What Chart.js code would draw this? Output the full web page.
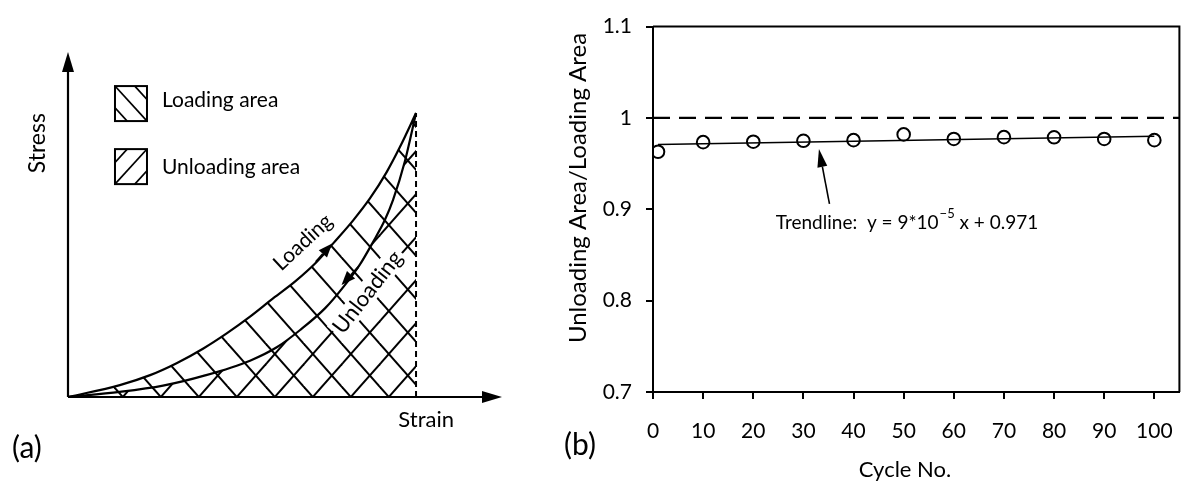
<!DOCTYPE html>
<html>
<head>
<meta charset="utf-8">
<title>Loading / unloading area</title>
<script src="https://cdn.jsdelivr.net/npm/chart.js@4.4.1/dist/chart.umd.min.js"></script>
<style>
  html, body { margin: 0; padding: 0; background: #fff; }
  #wrap { position: relative; width: 1193px; height: 483px; }
  #boxA { position: absolute; left: 0; top: 0; width: 560px; height: 483px; }
  #boxB { position: absolute; left: 560px; top: 0; width: 633px; height: 483px; }
</style>
</head>
<body>
<div id="wrap">
  <div id="boxA"><canvas id="schemeChart"></canvas></div>
  <div id="boxB"><canvas id="ratioChart"></canvas></div>
</div>
<script>
// (a) schematic stress-strain loop, strain and stress scaled to the peak (1, 1)
const strainLoading = [0, 0.149, 0.236, 0.312, 0.389, 0.456, 0.523, 0.590, 0.652, 0.715, 0.762, 0.820, 0.868, 0.916, 0.954, 1];
const stressLoading = [0, 0.042, 0.077, 0.119, 0.171, 0.224, 0.283, 0.348, 0.406, 0.476, 0.541, 0.623, 0.700, 0.793, 0.881, 1];
const strainUnloading = [0, 0.149, 0.273, 0.394, 0.523, 0.601, 0.667, 0.739, 0.796, 0.839, 0.876, 0.911, 0.934, 0.968, 1];
const stressUnloading = [0, 0.018, 0.040, 0.076, 0.128, 0.176, 0.236, 0.313, 0.395, 0.467, 0.545, 0.625, 0.694, 0.830, 1];
const peakStrain = [1, 1];
const peakStress = [0, 1];

// (b) unloading/loading area ratio per cycle
const cycles = [1, 10, 20, 30, 40, 50, 60, 70, 80, 90, 100];
const areaRatio = [0.963, 0.9735, 0.974, 0.975, 0.9757, 0.982, 0.977, 0.979, 0.9788, 0.977, 0.9757];
const trendCycles = [1, 100];
const trendRatio = [0.971, 0.980];
const unityCycles = [0, 105];
const unityRatio = [1, 1];
const xTicks = [0, 10, 20, 30, 40, 50, 60, 70, 80, 90, 100];
const yTicks = [0.7, 0.8, 0.9, 1, 1.1];

const FONT = 'Lato, "Open Sans", sans-serif';

function pts(xs, ys) {
    return xs.map((x, i) => ({ x: x, y: ys[i] }));
}

// diagonal hatch tile, dir '\\' or '/'
function hatch(dir, w, h, dx) {
    const c = document.createElement('canvas');
    c.width = w; c.height = h;
    const g = c.getContext('2d');
    g.strokeStyle = '#000';
    g.lineWidth = 2;
    for (let k = -3; k <= 3; k++) {
        const x0 = k * w + dx;
        g.beginPath();
        if (dir === '\\') { g.moveTo(x0 - w, -h); g.lineTo(x0 + 2 * w, 2 * h); }
        else { g.moveTo(x0 - w, 2 * h); g.lineTo(x0 + 2 * w, -h); }
        g.stroke();
    }
    return g.createPattern(c, 'repeat');
}

function arrow(ctx, x1, y1, x2, y2, len, half, width) {
    const ang = Math.atan2(y2 - y1, x2 - x1);
    const bx = x2 - len * Math.cos(ang), by = y2 - len * Math.sin(ang);
    ctx.lineWidth = width;
    ctx.beginPath();
    ctx.moveTo(x1, y1);
    ctx.lineTo(bx, by);
    ctx.stroke();
    ctx.beginPath();
    ctx.moveTo(x2, y2);
    ctx.lineTo(bx + half * Math.sin(ang), by - half * Math.cos(ang));
    ctx.lineTo(bx - half * Math.sin(ang), by + half * Math.cos(ang));
    ctx.closePath();
    ctx.fill();
}

function legendBox(ctx, x0, y0, w, h, dir) {
    ctx.save();
    ctx.lineWidth = 2;
    ctx.strokeRect(x0, y0, w, h);
    ctx.beginPath();
    ctx.rect(x0, y0, w, h);
    ctx.clip();
    ctx.lineWidth = 1.7;
    [-0.62, 0, 0.62].forEach(f => {
        ctx.beginPath();
        if (dir === '\\') { ctx.moveTo(x0 + f * w, y0); ctx.lineTo(x0 + w + f * w, y0 + h); }
        else { ctx.moveTo(x0 + f * w, y0 + h); ctx.lineTo(x0 + w + f * w, y0); }
        ctx.stroke();
    });
    ctx.restore();
}

function rotatedText(ctx, txt, x, y, deg, font, halo) {
    ctx.save();
    ctx.translate(x, y);
    ctx.rotate(deg * Math.PI / 180);
    ctx.font = font;
    ctx.textAlign = 'center';
    ctx.textBaseline = 'middle';
    if (halo) {
        const w = ctx.measureText(txt).width;
        ctx.fillStyle = '#fff';
        ctx.fillRect(-w / 2 - 3, -11, w + 6, 22);
        ctx.fillStyle = '#000';
    }
    ctx.fillText(txt, 0, 0);
    ctx.restore();
}

// ---------- (a) schematic ----------
const schemeDecor = {
    id: 'schemeDecor',
    afterDraw(chart) {
        const { ctx, scales: { x, y } } = chart;
        const px = v => x.getPixelForValue(v), py = v => y.getPixelForValue(v);
        ctx.save();
        ctx.strokeStyle = '#000';
        ctx.fillStyle = '#000';
        // axes with arrow heads
        arrow(ctx, px(0), py(0), px(0), py(y.max), 20, 6, 2.2);
        arrow(ctx, px(0), py(0), px(x.max), py(0), 20, 6, 2.2);

        rotatedText(ctx, 'Loading', px(0.675), py(0.545), -43, '21px ' + FONT, false);
        rotatedText(ctx, 'Unloading', px(0.861), py(0.369), -52, '22px ' + FONT, true);

        // direction arrows on the curves
        arrow(ctx, px(0.712), py(0.476), px(0.759), py(0.541), 14, 5.5, 2);
        arrow(ctx, px(0.834), py(0.458), px(0.786), py(0.394), 14, 5.5, 2);

        ctx.textBaseline = 'middle';
        ctx.textAlign = 'left';
        ctx.font = '21px ' + FONT;
        legendBox(ctx, px(0.135), py(1.095), 32, 35, '\\');
        ctx.fillText('Loading area', px(0.270), py(1.046));
        legendBox(ctx, px(0.135), py(0.873), 32, 35, '/');
        ctx.fillText('Unloading area', px(0.270), py(0.81));

        rotatedText(ctx, 'Stress', px(-0.086), py(0.894), -90, '23px ' + FONT, false);
        rotatedText(ctx, 'Strain', px(1.029), py(-0.081), 0, '22px ' + FONT, false);
        rotatedText(ctx, '(a)', px(-0.118), py(-0.18), 0, '30px ' + FONT, false);
        ctx.restore();
    }
};

const hatchLoad = hatch('\\', 38, 43, 0);
const hatchUnload = hatch('/', 38, 43, 17.6);

new Chart(document.getElementById('schemeChart'), {
    type: 'line',
    data: {
        datasets: [
            {
                label: 'Loading',
                data: pts(strainLoading, stressLoading),
                borderColor: '#000',
                borderWidth: 2.2,
                backgroundColor: hatchLoad,
                fill: 'origin',
                cubicInterpolationMode: 'monotone'
            },
            {
                label: 'Unloading',
                data: pts(strainUnloading, stressUnloading),
                borderColor: '#000',
                borderWidth: 2.2,
                backgroundColor: hatchUnload,
                fill: 'origin',
                cubicInterpolationMode: 'monotone'
            },
            {
                label: 'Peak strain',
                data: pts(peakStrain, peakStress),
                borderColor: '#000',
                borderWidth: 2,
                borderDash: [6, 4],
                fill: false,
                tension: 0
            }
        ]
    },
    options: {
        responsive: true,
        maintainAspectRatio: false,
        animation: false,
        layout: { padding: { left: 68, right: 58, top: 52, bottom: 86 } },
        elements: { point: { radius: 0, hoverRadius: 0 } },
        scales: {
            x: { type: 'linear', min: 0, max: 1.247, display: false },
            y: { type: 'linear', min: 0, max: 1.215, display: false }
        },
        plugins: { legend: { display: false }, tooltip: { enabled: false } }
    },
    plugins: [schemeDecor]
});

// ---------- (b) area ratio ----------
const ratioDecor = {
    id: 'ratioDecor',
    afterDraw(chart) {
        const { ctx, chartArea: a, scales: { x, y } } = chart;
        const px = v => x.getPixelForValue(v), py = v => y.getPixelForValue(v);
        ctx.save();
        ctx.strokeStyle = '#000';
        ctx.fillStyle = '#000';
        ctx.lineWidth = 2;
        ctx.beginPath();
        ctx.moveTo(a.left, a.top);
        ctx.lineTo(a.right, a.top);
        ctx.lineTo(a.right, a.bottom);
        ctx.stroke();

        arrow(ctx, px(35.2), py(0.906), px(33.1), py(0.966), 18, 5, 1.6);

        // trendline label with superscript exponent
        let tx = px(24.5);
        const ty = py(0.885);
        ctx.textAlign = 'left';
        ctx.textBaseline = 'middle';
        ctx.font = '19px ' + FONT;
        let s = 'Trendline:  y = 9*10';
        ctx.fillText(s, tx, ty);
        tx += ctx.measureText(s).width + 1;
        ctx.font = '13px ' + FONT;
        s = '\u22125';
        ctx.fillText(s, tx, ty - 9);
        tx += ctx.measureText(s).width;
        ctx.font = '19px ' + FONT;
        ctx.fillText(' x + 0.971', tx, ty);

        rotatedText(ctx, 'Unloading Area/Loading Area', 18, 188, -90, '24px ' + FONT, false);
        rotatedText(ctx, 'Cycle No.', 345, 470, 0, '22px ' + FONT, false);
        rotatedText(ctx, '(b)', 20, 445, 0, '30px ' + FONT, false);
        ctx.restore();
    }
};

const axisLook = {
    border: { display: true, color: '#000', width: 2 },
    grid: { display: true, drawOnChartArea: false, drawTicks: true, tickLength: 7, color: '#000', lineWidth: 2 }
};

new Chart(document.getElementById('ratioChart'), {
    type: 'line',
    data: {
        datasets: [
            {
                label: 'Area ratio',
                data: pts(cycles, areaRatio),
                showLine: false,
                pointStyle: 'circle',
                pointRadius: 6.3,
                pointBorderWidth: 2,
                pointBorderColor: '#000',
                pointBackgroundColor: 'rgba(0,0,0,0)'
            },
            {
                label: 'Trendline',
                data: pts(trendCycles, trendRatio),
                borderColor: '#000',
                borderWidth: 1.6,
                pointRadius: 0,
                fill: false
            },
            {
                label: 'Unity',
                data: pts(unityCycles, unityRatio),
                borderColor: '#000',
                borderWidth: 2.2,
                borderDash: [17, 9],
                pointRadius: 0,
                fill: false
            }
        ]
    },
    options: {
        responsive: true,
        maintainAspectRatio: false,
        animation: false,
        layout: { padding: { left: 0, right: 4, top: 20, bottom: 0 } },
        scales: {
            x: Object.assign({
                type: 'linear', min: 0, max: 105,
                afterBuildTicks: s => { s.ticks = xTicks.map(v => ({ value: v })); },
                afterFit: s => { s.height = 91; },
                ticks: { color: '#000', font: { family: FONT, size: 21 }, padding: 20, maxRotation: 0, autoSkip: false }
            }, axisLook),
            y: Object.assign({
                type: 'linear', min: 0.7, max: 1.1,
                afterBuildTicks: s => { s.ticks = yTicks.map(v => ({ value: v })); },
                afterFit: s => { s.width = 93; },
                ticks: {
                    color: '#000', font: { family: FONT, size: 21 }, padding: 14,
                    callback: v => String(Math.round(v * 10) / 10)
                }
            }, axisLook)
        },
        plugins: { legend: { display: false }, tooltip: { enabled: false } }
    },
    plugins: [ratioDecor]
});
</script>
</body>
</html>
